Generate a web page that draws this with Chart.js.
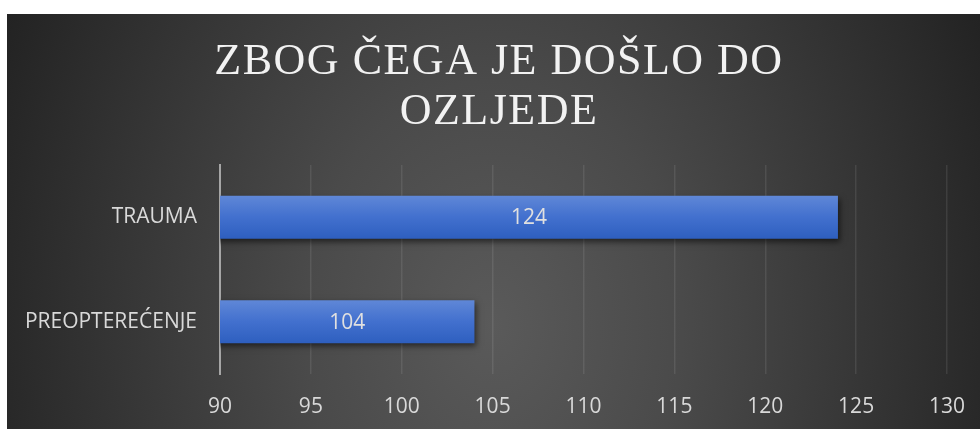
<!DOCTYPE html>
<html>
<head>
<meta charset="utf-8">
<script src="https://cdn.jsdelivr.net/npm/chart.js@4.4.1/dist/chart.umd.min.js"></script>
<style>
  html, body { margin: 0; padding: 0; background: #fff; }
  #wrap {
    position: absolute; left: 7px; top: 14px; width: 973px; height: 415px;
    background: radial-gradient(ellipse 540px 700px at 50% 75%, #5a5a5a 0%, #4a4a4a 35%, #232323 100%);
  }
  canvas { display: block; }
</style>
</head>
<body>
<div id="wrap"><canvas id="c" width="973" height="415"></canvas></div>
<script>
// ── Data ────────────────────────────────────
const titleLines = ["ZBOG ČEGA JE DOŠLO DO", "OZLJEDE"];
const categories = ["TRAUMA", "PREOPTEREĆENJE"];
const counts = [124, 104];
const axisMin = 90;
const axisMax = 130;
const axisStep = 5;

const TXT = "#d9d9d9";
const FONT = "'Open Sans', 'Noto Sans', sans-serif";
const BAR_PCT = 0.41;

// bar fill: vertical gradient per bar
function barFill(context) {
  const chart = context.chart;
  const y = chart.scales && chart.scales.y;
  const cy = y ? y.getPixelForValue(context.dataIndex) : NaN;
  if (!isFinite(cy)) return "#4472c4";
  const h = (y.height / categories.length) * BAR_PCT / 2;
  const g = chart.ctx.createLinearGradient(0, cy - h, 0, cy + h);
  g.addColorStop(0, "#5f87d7");
  g.addColorStop(0.5, "#4270ce");
  g.addColorStop(1, "#2e5fbf");
  return g;
}

// shadow under bars
const barShadow = {
  id: "barShadow",
  beforeDatasetsDraw(chart) {
    const ctx = chart.ctx;
    ctx.save();
    ctx.shadowColor = "rgba(0,0,0,0.55)";
    ctx.shadowBlur = 6;
    ctx.shadowOffsetX = 2;
    ctx.shadowOffsetY = 3;
  },
  afterDatasetsDraw(chart) {
    chart.ctx.restore();
  },
};

// title (hand drawn for letter spacing) and value labels
const textPlugin = {
  id: "textPlugin",
  afterDraw(chart) {
    const ctx = chart.ctx;
    ctx.save();
    ctx.font = "44px 'Liberation Serif', serif";
    ctx.fillStyle = "#f2f2f2";
    ctx.textAlign = "center";
    ctx.textBaseline = "alphabetic";
    if ("letterSpacing" in ctx) ctx.letterSpacing = "1.5px";
    ctx.fillText(titleLines[0], 492, 59.5);
    ctx.fillText(titleLines[1], 492, 109.5);
    ctx.restore();

    const xs = chart.scales.x, ys = chart.scales.y;
    ctx.save();
    ctx.font = "21px " + FONT;
    ctx.fillStyle = "#e0e0e0";
    ctx.textAlign = "center";
    ctx.textBaseline = "middle";
    counts.forEach((v, i) => {
      const cx = (xs.getPixelForValue(v) + xs.getPixelForValue(axisMin)) / 2;
      ctx.fillText(String(v), cx, ys.getPixelForValue(i) + 1);
    });
    ctx.restore();
  },
};

new Chart(document.getElementById("c"), {
  type: "bar",
  data: {
    labels: categories,
    datasets: [
      {
        data: counts,
        backgroundColor: barFill,
        borderWidth: 0,
        barPercentage: BAR_PCT,
        categoryPercentage: 1,
      },
    ],
  },
  options: {
    indexAxis: "y",
    responsive: false,
    animation: false,
    layout: { padding: { top: 151, right: 33, left: 0, bottom: 0 } },
    plugins: { legend: { display: false }, tooltip: { enabled: false }, title: { display: false } },
    scales: {
      x: {
        min: axisMin,
        max: axisMax,
        ticks: { stepSize: axisStep, color: TXT, font: { family: FONT, size: 21 }, padding: 20 },
        grid: { color: "rgba(255,255,255,0.09)", lineWidth: 1.5, drawTicks: false },
        border: { display: false },
        afterFit: (s) => { s.height = 55; s.paddingLeft = 0; s.paddingRight = 0; },
      },
      y: {
        ticks: { color: TXT, font: { family: FONT, size: 21 }, padding: 23 },
        grid: { display: false, drawTicks: false },
        border: { display: true, color: "#a6a6a6", width: 2 },
        afterFit: (s) => { s.width = 213; },
      },
    },
  },
  plugins: [barShadow, textPlugin],
});
</script>
</body>
</html>
